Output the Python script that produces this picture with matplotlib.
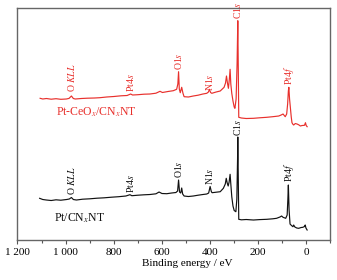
import matplotlib
matplotlib.use("Agg")
import matplotlib.pyplot as plt

plt.rcParams["font.family"] = ["Liberation Serif", "DejaVu Serif"]
plt.rcParams["mathtext.fontset"] = "stix"

# binding energy (eV) / intensity (a.u.)
be_pt = [1108, 1095, 1080, 1060, 1040, 1020, 996, 985, 976, 968, 955, 930, 900, 870, 840,
         810, 780, 750, 733, 725, 700, 675, 650, 625, 612, 600, 580, 560, 542, 535, 531,
         527, 522, 518, 514, 508, 490, 470, 450, 430, 414, 406, 400, 395, 392, 375, 358,
         345, 337, 333, 329, 325, 321, 317, 314, 310, 305, 300, 293, 289, 286, 285, 283,
         281, 270, 250, 220, 195, 165, 140, 124, 110, 103, 97, 86, 80, 77, 75, 72, 68, 62,
         56, 53, 48, 40, 32, 22, 15, 8, 5, 2, -3]
int_pt = [40.7, 39.5, 39.0, 38.5, 39.2, 38.8, 39.5, 40.0, 41.5, 39.5, 39.0, 39.8, 40.2, 40.8, 41.2,
          41.8, 42.3, 43.0, 44.3, 43.3, 43.8, 44.2, 44.5, 45.2, 47.0, 45.5, 45.3, 46.0, 46.5, 48.0, 59.0,
          47.0, 46.0, 51.0, 45.0, 43.0, 42.5, 43.0, 43.8, 44.5, 45.0, 46.0, 52.5, 47.5, 46.3, 46.8, 47.3,
          50.7, 55.0, 60.7, 56.0, 53.0, 57.0, 64.7, 55.0, 42.3, 33.0, 28.5, 27.3, 40.0, 80.0, 102.0, 60.0,
          19.7, 19.2, 19.5, 19.0, 19.4, 19.7, 20.2, 20.7, 22.0, 23.0, 21.7, 20.7, 24.0, 40.0, 54.0, 29.0, 15.0, 13.5,
          12.3, 14.0, 12.0, 11.0, 10.7, 11.5, 11.7, 12.5, 14.0, 11.0, 9.0]

be_ptce = [1106, 1095, 1080, 1060, 1040, 1020, 997, 986, 976, 968, 960, 935, 910, 880, 858,
           830, 800, 770, 745, 730, 722, 700, 675, 650, 625, 608, 598, 575, 553, 539, 534,
           531, 528, 524, 518, 513, 508, 490, 470, 450, 430, 414, 407, 403, 398, 393, 375,
           358, 342, 336, 332, 328, 324, 320, 317, 314, 310, 305, 300, 297, 292, 288, 285,
           283, 281, 270, 250, 220, 195, 165, 140, 115, 105, 97, 92, 88, 82, 78, 75, 73, 70,
           67, 63, 60, 56, 53, 46, 39, 32, 25, 18, 8, 4, 1, -3]
int_ptce = [140.7, 140.0, 140.5, 139.8, 140.3, 139.7, 140.0, 140.6, 143.0, 140.5, 140.0, 140.5, 140.8, 141.0, 141.3,
            142.0, 142.5, 143.2, 143.5, 145.0, 144.0, 144.3, 144.8, 145.0, 145.8, 147.7, 146.5, 147.5, 148.3, 149.7, 155.0,
            167.3, 150.0, 146.3, 151.7, 146.0, 142.3, 142.0, 143.0, 143.8, 145.0, 145.7, 147.0, 149.7, 146.5, 145.7, 147.0,
            148.0, 151.7, 156.0, 163.0, 156.0, 150.7, 160.0, 169.7, 155.0, 145.7, 138.0, 132.0, 130.7, 140.0, 175.0, 218.3,
            170.0, 121.7, 121.0, 120.5, 120.7, 121.2, 121.7, 122.3, 123.0, 124.0, 125.0, 123.5, 122.3, 125.0, 135.0, 148.0, 151.7, 140.0,
            132.3, 122.0, 116.3, 114.7, 114.0, 115.5, 115.0, 114.2, 113.0, 113.5, 113.7, 116.3, 113.5, 112.3]

# peak labels: text, energy, base height
peak_names = ["O $KLL$", "Pt4$s$", "O1$s$", "N1$s$", "C1$s$", "Pt4$f$"]
peak_be = [975, 729, 532, 404, 285, 72]
peak_y_pt = [44, 46, 61, 54, 103, 57]
peak_y_ptce = [147, 147, 169, 148, 220, 154]

red = "#e8302c"
black = "#111111"

fig = plt.figure(figsize=(3.37, 2.8), dpi=100)
ax = fig.add_axes([0.0519, 0.1446, 0.9288, 0.8279])

ax.plot(be_pt, int_pt, color=black, lw=0.85)
ax.plot(be_ptce, int_ptce, color=red, lw=0.85)

for name, x, y in zip(peak_names, peak_be, peak_y_pt):
    ax.text(x, y, name, rotation=90, ha="center", va="bottom", fontsize=7, color=black, clip_on=False)
for name, x, y in zip(peak_names, peak_be, peak_y_ptce):
    ax.text(x, y, name, rotation=90, ha="center", va="bottom", fontsize=7, color=red, clip_on=False)

ax.text(1040, 127, "Pt-CeO$_x$/CN$_x$NT", color=red, fontsize=8.5, ha="left", va="center")
ax.text(1048, 21, "Pt/CN$_x$NT", color=black, fontsize=8.5, ha="left", va="center")

ax.set_xlim(1200, -100)
ax.set_ylim(-0.5, 231.3)
ax.set_xticks([1200, 1000, 800, 600, 400, 200, 0])
ax.set_xticklabels(["1 200", "1 000", "800", "600", "400", "200", "0"])
ax.set_xticks(range(1100, -101, -200), minor=True)
ax.set_yticks([])
ax.tick_params(axis="x", which="major", direction="out", length=3, width=0.8, labelsize=8, pad=3, color="#555555")
ax.tick_params(axis="x", which="minor", direction="out", length=2, width=0.8, color="#555555")
ax.set_xlabel("Binding energy / eV", fontsize=8)
ax.xaxis.set_label_coords(0.543, -0.085)
for s in ax.spines.values():
    s.set_color("#666666")
    s.set_linewidth(1.0)

fig.savefig("out.png", dpi=100)
plt.close(fig)
